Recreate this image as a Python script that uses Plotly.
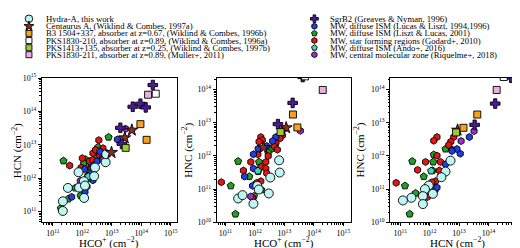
import plotly.graph_objects as go

# ---------------- data (log10 column densities) ----------------
# Panel 1: HCO+ (x) vs HCN (y)
hydra_p1 = [(11.87, 12.18), (12.43, 12.32), (12.40, 12.06), (12.05, 11.91), (11.51, 11.71), (11.89, 11.72),
            (12.09, 11.78), (12.06, 11.41), (11.34, 11.31), (11.34, 11.02), (12.79, 12.48), (12.81, 12.72)]
cen_p1 = [(13.68, 13.44), (13.44, 13.21), (12.99, 12.77)]
b3_p1 = [(13.97, 13.62), (14.18, 13.15)]
pks210_p1 = [(14.49, 14.53)]
pks1413_p1 = [(13.47, 12.91)]
pks211_p1 = [(14.23, 14.50)]
sgrb2_p1 = [(14.39, 14.79), (13.71, 14.14), (13.97, 14.23), (14.15, 14.12), (13.29, 13.51), (13.34, 13.03)]
lucas_p1 = [(13.19, 13.16), (11.64, 11.44), (12.09, 11.59), (12.50, 12.51), (12.36, 12.37), (12.07, 12.27),
            (12.36, 11.94), (12.30, 12.15), (12.60, 12.80), (12.70, 12.60)]
liszt_p1 = [(11.36, 12.52), (12.89, 13.23), (11.27, 11.10), (11.52, 11.38), (11.76, 11.71), (11.94, 11.48),
            (12.11, 12.56), (12.13, 12.42), (12.24, 12.21), (12.16, 11.99), (12.53, 12.93), (12.60, 12.70),
            (12.05, 12.45), (12.45, 12.65)]
godard_p1 = [(11.57, 12.38), (12.56, 13.14), (12.36, 12.75), (11.96, 12.32), (12.24, 12.51), (12.30, 12.32),
             (12.19, 12.08), (12.58, 12.70), (12.16, 11.75), (12.45, 12.85), (12.00, 12.60), (12.70, 12.90),
             (12.35, 12.55)]
ando_p1 = [(12.20, 12.05)]
riq_p1 = [(13.47, 13.48), (11.93, 11.92), (12.70, 12.55)]

# Panel 2: HCO+ (x) vs HNC (y)
hydra_p2 = [(12.82, 11.87), (12.84, 11.50), (12.52, 11.35), (12.08, 11.10), (12.13, 10.99), (12.47, 10.87),
            (11.43, 10.72), (11.58, 10.82), (11.95, 10.56)]
cen_p2 = [(13.06, 12.85), (12.29, 12.25)]
b3_p2 = [(13.29, 13.25), (13.44, 12.86)]
pks210_p2 = [(13.70, 14.40)]
pks1413_p2 = [(12.87, 12.72)]
pks211_p2 = [(14.30, 13.99)]
sgrb2_p2 = [(13.62, 14.38), (13.28, 13.60), (12.78, 12.96)]
lucas_p2 = [(12.71, 12.57), (12.11, 12.22), (11.95, 12.05), (11.65, 11.38), (11.95, 11.62), (11.92, 11.10),
            (12.40, 12.30), (12.60, 12.45)]
liszt_p2 = [(11.43, 11.84), (11.18, 11.10), (11.81, 11.38), (12.14, 11.82), (12.11, 11.53), (12.54, 12.21),
            (12.22, 10.98), (11.97, 10.79), (11.34, 10.25), (12.45, 12.10), (12.70, 12.35)]
godard_p2 = [(10.86, 11.21), (11.61, 11.56), (11.86, 11.82), (12.20, 11.67), (12.37, 11.82), (12.37, 11.62),
             (12.40, 11.48), (12.20, 11.24), (12.06, 11.19), (11.92, 10.74), (12.20, 12.57), (12.25, 12.48),
             (12.14, 12.43), (12.71, 12.43), (12.65, 12.29), (12.76, 12.19), (12.93, 12.62), (12.85, 12.53),
             (12.97, 12.80), (12.10, 12.05), (12.45, 12.00)]
ando_p2 = [(12.10, 11.55)]
riq_p2 = [(13.54, 12.76), (11.86, 10.78)]

# Panel 3: HCN (x) vs HNC (y)
hydra_p3 = [(12.71, 11.86), (12.54, 11.53), (12.40, 11.36), (11.97, 11.11), (11.84, 11.00), (12.11, 10.86),
            (11.77, 10.79), (11.38, 10.74), (11.09, 10.66), (11.77, 10.55)]
cen_p3 = [(12.95, 12.78)]
b3_p3 = [(13.62, 13.25), (13.15, 12.85)]
pks210_p3 = [(14.52, 14.38)]
pks1413_p3 = [(12.90, 12.71)]
pks211_p3 = [(14.28, 13.99)]
sgrb2_p3 = [(14.77, 14.36), (14.23, 13.58), (13.53, 12.94)]
lucas_p3 = [(13.35, 12.57), (13.04, 12.07), (12.93, 12.21), (12.76, 12.15), (12.54, 11.75), (12.25, 11.05)]
liszt_p3 = [(11.41, 11.84), (11.80, 11.38), (11.16, 11.10), (12.14, 12.04), (12.12, 11.82), (12.10, 11.56),
            (12.54, 12.21), (11.52, 10.88), (12.20, 11.00), (11.32, 10.25)]
godard_p3 = [(11.86, 11.82), (11.59, 11.58), (10.86, 11.19), (12.25, 12.01), (12.37, 11.82), (12.33, 11.56),
             (12.37, 11.40), (12.20, 11.24), (12.08, 11.21), (11.92, 10.76), (12.93, 12.74), (12.82, 12.57),
             (12.72, 12.43), (12.65, 12.33), (12.76, 12.19), (12.25, 12.57), (12.14, 12.46)]
ando_p3 = [(12.05, 11.55)]
riq_p3 = [(13.51, 12.75), (13.07, 12.45)]

labels = [
    "Hydra-A, this work",
    "Centaurus A, (Wiklind & Combes, 1997a)",
    "B3 1504+337, absorber at z=0.67, (Wiklind & Combes, 1996b)",
    "PKS1830-210, absorber at z=0.89, (Wiklind & Combes, 1996a)",
    "PKS1413+135, absorber at z=0.25, (Wiklind & Combes, 1997b)",
    "PKS1830-211, absorber at z=0.89, (Muller+, 2011)",
    "SgrB2 (Greaves & Nyman, 1996)",
    "MW, diffuse ISM (Lucas & Liszt, 1994,1996)",
    "MW, diffuse ISM (Liszt & Lucas, 2001)",
    "MW, star forming regions (Godard+, 2010)",
    "MW, diffuse ISM (Ando+, 2016)",
    "MW, central molecular zone (Riquelme+, 2018)",
]

# ---------------- styles ----------------
styles = [
    dict(symbol="circle", color="#bff5f2", size=9),
    dict(symbol="star", color="#8b2a2a", size=9),
    dict(symbol="square", color="#f5a21c", size=7),
    dict(symbol="square", color="#ffffff", size=7),
    dict(symbol="square", color="#9acd32", size=7),
    dict(symbol="square", color="#eeaee0", size=7),
    dict(symbol="cross", color="#4b1a9a", size=8),
    dict(symbol="hexagon", color="#1f3ee8", size=7),
    dict(symbol="pentagon", color="#22a022", size=7.5),
    dict(symbol="hexagon", color="#e81414", size=7),
    dict(symbol="pentagon", color="#3fd9bf", size=7.5),
    dict(symbol="hexagon", color="#9932cc", size=7),
]

panels = [
    [hydra_p1, cen_p1, b3_p1, pks210_p1, pks1413_p1, pks211_p1, sgrb2_p1, lucas_p1, liszt_p1, godard_p1, ando_p1, riq_p1],
    [hydra_p2, cen_p2, b3_p2, pks210_p2, pks1413_p2, pks211_p2, sgrb2_p2, lucas_p2, liszt_p2, godard_p2, ando_p2, riq_p2],
    [hydra_p3, cen_p3, b3_p3, pks210_p3, pks1413_p3, pks211_p3, sgrb2_p3, lucas_p3, liszt_p3, godard_p3, ando_p3, riq_p3],
]
# draw order (background to foreground)
order = [8, 9, 7, 10, 11, 0, 1, 6, 2, 3, 4, 5]

W, H = 520, 248
FONT = "Liberation Serif"
fig = go.Figure()

xdoms = [(34, 169), (209, 344), (383, 517)]
ytop, ybot = 67, 218
xranges = [(10.63, 15.2), (10.70, 15.27), (10.66, 15.21)]
yranges = [(10.68, 15.0), (10.0, 14.35), (10.0, 14.35)]
yticks = [list(range(11, 16)), list(range(10, 15)), list(range(10, 15))]
xtitles = ["HCO<sup>+</sup> (cm<sup>−2</sup>)", "HCO<sup>+</sup> (cm<sup>−2</sup>)", "HCN (cm<sup>−2</sup>)"]
ytitles = ["HCN (cm<sup>−2</sup>)", "HNC (cm<sup>−2</sup>)", "HNC (cm<sup>−2</sup>)"]
ytitle_x = [9, 180, 352]

def minor_vals(lo, hi):
    out = []
    for e in range(int(lo) - 1, int(hi) + 2):
        for k in range(2, 10):
            out.append(k * 10.0 ** e)
    return out

for p in range(3):
    ax = "" if p == 0 else str(p + 1)
    for gi in order:
        pts = panels[p][gi]
        st = styles[gi]
        fig.add_trace(go.Scatter(
            x=[10 ** a for a, b in pts], y=[10 ** b for a, b in pts],
            mode="markers", showlegend=False, hoverinfo="skip",
            xaxis="x" + ax, yaxis="y" + ax,
            marker=dict(symbol=st["symbol"], color=st["color"], size=st["size"],
                        line=dict(color="black", width=0.9)),
        ))
    x0, x1 = xdoms[p]
    common = dict(type="log", showgrid=False, zeroline=False, showline=True, linecolor="black",
                  linewidth=1, mirror=True, ticks="outside", ticklen=3, tickcolor="black",
                  tickfont=dict(family=FONT, size=8, color="black"))
    xt = list(range(11, 16))
    fig.layout["xaxis" + ax] = dict(
        domain=[x0 / W, x1 / W], anchor="y" + ax, range=list(xranges[p]),
        tickvals=[10.0 ** t for t in xt], ticktext=["10<sup>%d</sup>" % t for t in xt],
        minor=dict(ticks="outside", ticklen=1.5, tickcolor="black",
                   tickvals=minor_vals(*xranges[p])),
        **common)
    fig.layout["yaxis" + ax] = dict(
        domain=[1 - ybot / H, 1 - ytop / H], anchor="x" + ax, range=list(yranges[p]),
        tickvals=[10.0 ** t for t in yticks[p]], ticktext=["10<sup>%d</sup>" % t for t in yticks[p]],
        minor=dict(ticks="outside", ticklen=1.5, tickcolor="black",
                   tickvals=minor_vals(*yranges[p])),
        **common)
    fig.add_annotation(text=xtitles[p], xref="paper", yref="paper",
                       x=(x0 + x1) / 2 / W, y=1 - 239 / H, showarrow=False,
                       font=dict(family=FONT, size=11, color="black"),
                       xanchor="center", yanchor="middle")
    fig.add_annotation(text=ytitles[p], xref="paper", yref="paper",
                       x=ytitle_x[p] / W, y=1 - (ytop + ybot) / 2 / H, showarrow=False,
                       textangle=-90, font=dict(family=FONT, size=11, color="black"),
                       xanchor="center", yanchor="middle")

# ---------------- manual legend (two columns) on an overlay axis in pixel units ----------------
leg_cols = [(21, 37), (307, 322)]
leg_rows = [5, 12.8, 20.3, 27.8, 35.3, 42.6]
for i, lab in enumerate(labels):
    c = i // 6
    r = i % 6
    mx, tx = leg_cols[c]
    ty = leg_rows[r]
    st = styles[i]
    fig.add_trace(go.Scatter(
        x=[mx], y=[ty], mode="markers", xaxis="x4", yaxis="y4", showlegend=False, hoverinfo="skip",
        marker=dict(symbol=st["symbol"], color=st["color"], size=max(st["size"] - 1.5, 6),
                    line=dict(color="black", width=0.9)),
    ))
    fig.add_annotation(text=lab, xref="x4", yref="y4", x=tx, y=ty, showarrow=False,
                       xanchor="left", yanchor="middle", borderpad=0,
                       font=dict(family=FONT, size=8.7, color="black"))

fig.layout["xaxis4"] = dict(domain=[0, 1], range=[0, W], visible=False, fixedrange=True, anchor="y4")
fig.layout["yaxis4"] = dict(domain=[0, 1], range=[H, 0], visible=False, fixedrange=True, anchor="x4")

fig.update_layout(width=W, height=H, margin=dict(l=0, r=0, t=0, b=0),
                  paper_bgcolor="white", plot_bgcolor="rgba(0,0,0,0)",
                  font=dict(family=FONT, color="black"))
fig.write_html("out.html")
